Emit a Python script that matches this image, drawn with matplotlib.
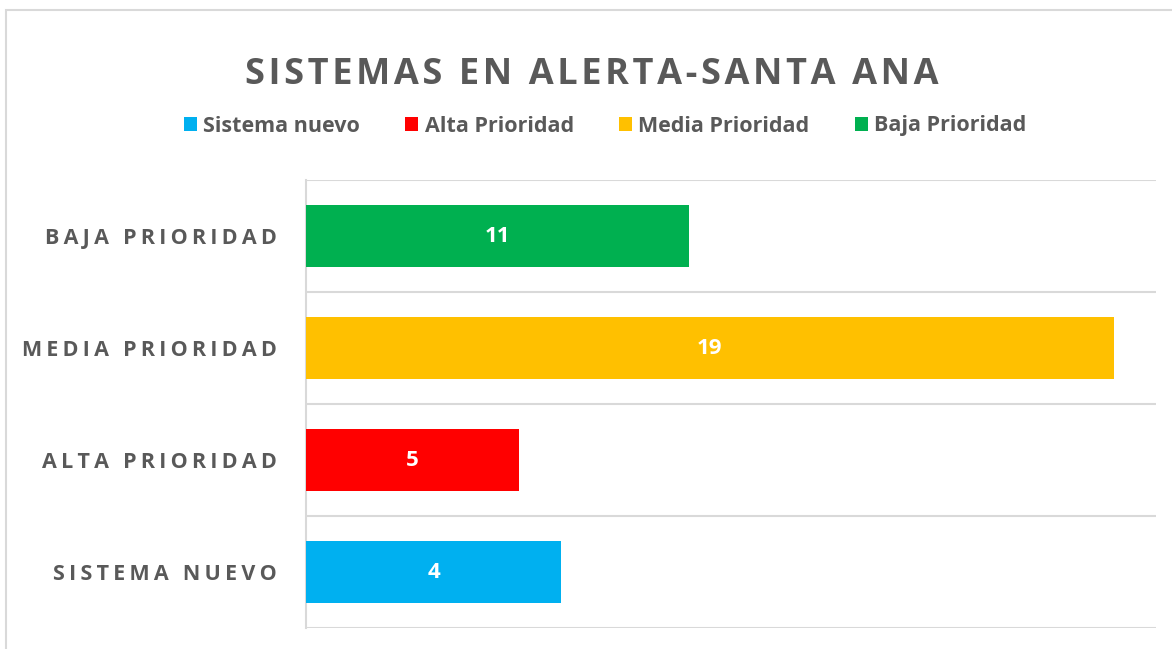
import matplotlib
matplotlib.use("Agg")
import matplotlib.pyplot as plt
from matplotlib.patches import Patch, Rectangle

plt.rcParams['font.family'] = ['Open Sans', 'DejaVu Sans']

# data (bottom to top, as drawn)
categories = ["SISTEMA NUEVO", "ALTA PRIORIDAD", "MEDIA PRIORIDAD", "BAJA PRIORIDAD"]
bar_lengths = [6, 5, 19, 9]          # bar lengths as drawn in the picture
value_labels = ["4", "5", "19", "11"]  # data labels printed on the bars
colors = ["#00B0F0", "#FF0000", "#FFC000", "#00B050"]
legend_names = ["Sistema nuevo", "Alta Prioridad", "Media Prioridad", "Baja Prioridad"]
title = "SISTEMAS EN ALERTA-SANTA ANA"

gray = "#595959"
light = "#D9D9D9"


def spaced(s, n=1):
    # Excel-like character spacing with hair spaces
    return ("\u200a" * n).join(s)


W, H = 1172, 649
fig = plt.figure(figsize=(W / 100, H / 100), dpi=100)

# chart border (Excel style)
fig.patches.append(Rectangle((6 / W, -0.2), 1.2, 1 - 10 / H + 0.2, transform=fig.transFigure,
                             fill=False, edgecolor=light, linewidth=1.5))

ax = fig.add_axes([306 / W, 1 - 628 / H, 850 / W, 448 / H])
y = range(len(categories))
bars = ax.barh(y, bar_lengths, height=0.55, color=colors, zorder=3)
ax.set_xlim(0, 20)
ax.set_ylim(-0.5, 3.5)

for edge in [-0.5, 0.5, 1.5, 2.5, 3.5]:
    ax.axhline(edge, color=light, linewidth=1.5, zorder=1)

for s in ["top", "right", "bottom"]:
    ax.spines[s].set_visible(False)
ax.spines["left"].set_color(light)
ax.spines["left"].set_linewidth(1.5)

ax.set_xticks([])
ax.set_yticks(list(y))
ax.set_yticklabels([spaced(c, 2) for c in categories], fontsize=15.5, fontweight="bold", color=gray)
ax.tick_params(axis="y", length=0, pad=21)

ax.bar_label(bars, labels=value_labels, label_type="center", color="white",
             fontsize=16, fontweight="bold")

fig.text(592 / W, 1 - 75 / H, spaced(title), ha="center", va="center",
         fontsize=26, fontweight="bold", color=gray)

handles = [Patch(facecolor=c, label=n) for c, n in zip(colors, legend_names)]
fig.legend(handles=handles, loc="center", bbox_to_anchor=(605 / W, 1 - 126 / H), ncol=4,
           frameon=False, handlelength=0.6, handleheight=0.6, handletextpad=0.3,
           columnspacing=2.1, prop={"size": 15.5, "weight": "bold"}, labelcolor=gray)

fig.savefig("out.png", dpi=100)
